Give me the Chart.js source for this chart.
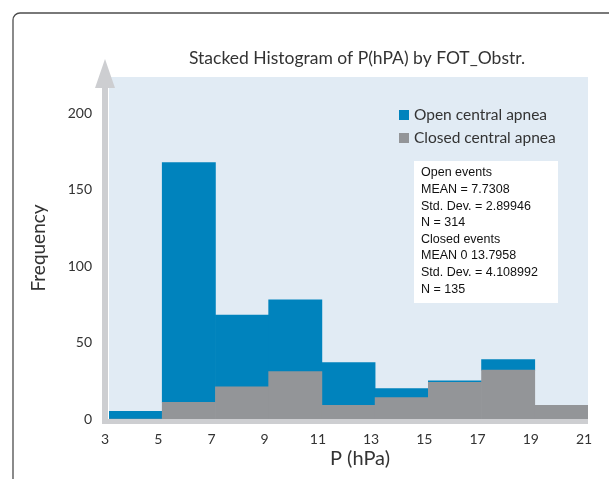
<!DOCTYPE html>
<html>
<head>
<meta charset="utf-8">
<script src="https://cdn.jsdelivr.net/npm/chart.js@4"></script>
<style>
  html, body { margin: 0; padding: 0; background: #fff; }
  #wrap { width: 609px; height: 479px; }
</style>
</head>
<body>
<div id="wrap"><canvas id="chart" width="609" height="479"></canvas></div>
<script>
// bins of P (hPa), width 2, from 3 to 21
const binCenters = [4, 6, 8, 10, 12, 14, 16, 18, 20];
const closedCounts = [0, 11, 21, 31, 9, 14, 24, 32, 9];
const openCounts = [5, 157, 47, 47, 28, 6, 1, 7, 0];
const xTicks = [3, 5, 7, 9, 11, 13, 15, 17, 19, 21];
const yTicks = [0, 50, 100, 150, 200];

const chartTitle = 'Stacked Histogram of P(hPA) by FOT_Obstr.';
const legendItems = [
  { label: 'Open central apnea', color: '#0083bd' },
  { label: 'Closed central apnea', color: '#939598' },
];
const statsLines = [
  'Open events',
  'MEAN = 7.7308',
  'Std. Dev. = 2.89946',
  'N = 314',
  'Closed events',
  'MEAN 0 13.7958',
  'Std. Dev. = 4.108992',
  'N = 135',
];

const gill = 'Lato, "Open Sans", sans-serif';
const axisGrey = '#cdced1';

const decor = {
  id: 'decor',
  beforeDraw(chart) {
    const ctx = chart.ctx;
    const a = chart.chartArea;
    ctx.save();
    ctx.fillStyle = '#fff';
    ctx.fillRect(0, 0, chart.width, chart.height);
    // outer frame, open at right and bottom
    ctx.strokeStyle = '#4d4d4d';
    ctx.lineWidth = 1.3;
    ctx.beginPath();
    ctx.moveTo(13, chart.height + 2);
    ctx.lineTo(13, 20);
    ctx.arcTo(13, 13, 20, 13, 7);
    ctx.lineTo(chart.width + 2, 13);
    ctx.stroke();
    // plot background
    ctx.fillStyle = '#e1ebf4';
    ctx.fillRect(a.left, a.top, a.right - a.left, a.bottom - a.top);
    ctx.restore();
  },
  afterDatasetsDraw(chart) {
    const ctx = chart.ctx;
    const a = chart.chartArea;
    ctx.save();
    ctx.fillStyle = axisGrey;
    // y axis shaft and arrow
    ctx.fillRect(a.left - 7, 86, 6, a.bottom + 5 - 86);
    ctx.beginPath();
    ctx.moveTo(a.left - 4, 59);
    ctx.lineTo(a.left + 6, 88);
    ctx.lineTo(a.left - 14, 88);
    ctx.closePath();
    ctx.fill();
    // x axis band
    ctx.fillRect(a.left - 7, a.bottom, a.right - a.left + 7, 5);

    // title
    ctx.fillStyle = '#333';
    ctx.font = '17.5px ' + gill;
    ctx.textAlign = 'center';
    ctx.textBaseline = 'middle';
    ctx.fillText(chartTitle, 357, 58);

    // axis titles
    ctx.font = '20px ' + gill;
    ctx.fillText('P (hPa)', 360, 459);
    ctx.font = '19px ' + gill;
    ctx.save();
    ctx.translate(39, 248);
    ctx.rotate(-Math.PI / 2);
    ctx.fillText('Frequency', 0, 0);
    ctx.restore();

    // legend
    ctx.textAlign = 'left';
    ctx.font = '15.5px ' + gill;
    legendItems.forEach((it, i) => {
      const y = 115 + i * 23;
      ctx.fillStyle = it.color;
      ctx.fillRect(399, y - 5, 10, 10);
      ctx.fillStyle = '#333';
      ctx.fillText(it.label, 414, y);
    });

    // stats box
    ctx.fillStyle = '#fff';
    ctx.fillRect(414, 161, 144, 142);
    ctx.fillStyle = '#111';
    ctx.font = '12.5px "Liberation Sans", Arial, sans-serif';
    statsLines.forEach((s, i) => {
      ctx.fillText(s, 421, 173 + i * 16.6);
    });
    ctx.restore();
  }
};

new Chart(document.getElementById('chart'), {
  type: 'bar',
  data: {
    datasets: [
      {
        label: 'Closed central apnea',
        data: binCenters.map((x, i) => ({ x: x, y: closedCounts[i] })),
        backgroundColor: '#939598',
        barPercentage: 1,
        categoryPercentage: 1,
        borderWidth: 0,
      },
      {
        label: 'Open central apnea',
        data: binCenters.map((x, i) => ({ x: x, y: openCounts[i] })),
        backgroundColor: '#0083bd',
        barPercentage: 1,
        categoryPercentage: 1,
        borderWidth: 0,
      },
    ],
  },
  options: {
    responsive: false,
    animation: false,
    layout: { padding: { left: 0, right: 21, top: 77, bottom: 0 } },
    scales: {
      x: {
        type: 'linear',
        stacked: true,
        offset: false,
        min: 3,
        max: 21,
        afterBuildTicks: s => { s.ticks = xTicks.map(v => ({ value: v })); },
        afterFit: s => { s.height = 60; },
        grid: { display: false, drawTicks: false, offset: false },
        border: { display: false },
        ticks: {
          padding: 12,
          labelOffset: -4,
          autoSkip: false,
          maxRotation: 0,
          color: '#333',
          font: { family: gill, size: 14 },
        },
      },
      y: {
        stacked: true,
        min: 0,
        max: 224,
        afterBuildTicks: s => { s.ticks = yTicks.map(v => ({ value: v })); },
        afterFit: s => { s.width = 109; },
        grid: { display: false, drawTicks: false },
        border: { display: false },
        ticks: {
          padding: 17,
          color: '#333',
          font: { family: gill, size: 14 },
        },
      },
    },
    plugins: {
      legend: { display: false },
      title: { display: false },
      tooltip: { enabled: false },
    },
  },
  plugins: [decor],
});
</script>
</body>
</html>
